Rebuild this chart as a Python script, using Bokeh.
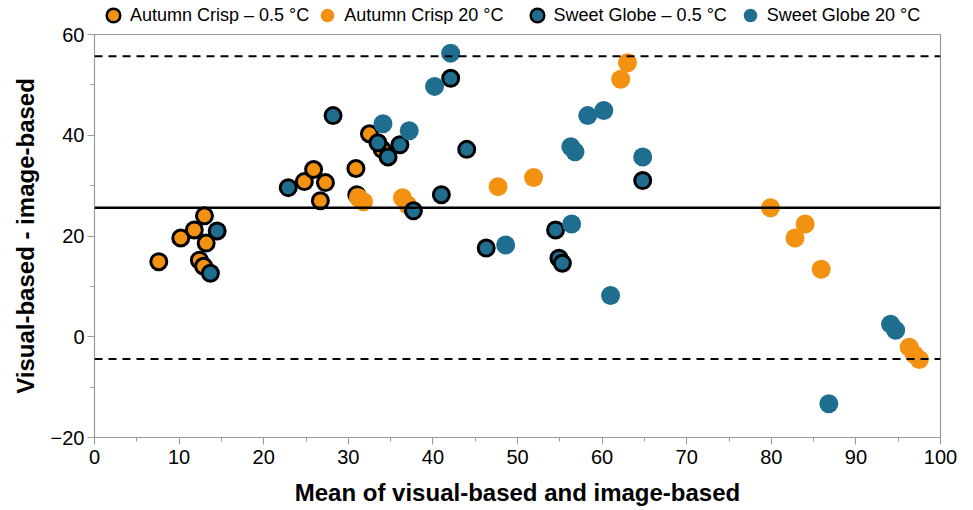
from bokeh.plotting import figure
from bokeh.layouts import column
from bokeh.models import Span, Legend, LegendItem, FixedTicker
from bokeh.embed import file_html
from bokeh.resources import INLINE

# ---- data ----
ac05_x = [7.6, 10.2, 11.8, 13.0, 13.2, 12.4, 12.9, 24.8, 25.9, 27.3, 26.7, 30.9, 31.0, 32.5, 34.0]
ac05_y = [14.9, 19.6, 21.2, 24.0, 18.6, 15.2, 14.0, 30.8, 33.2, 30.6, 27.0, 33.4, 28.2, 40.3, 37.2]

ac20_x = [31.2, 31.8, 36.4, 37.0, 47.7, 51.9, 62.2, 63.0, 79.9, 84.0, 82.8, 85.9, 96.3, 96.9, 97.5]
ac20_y = [27.6, 26.8, 27.6, 26.2, 29.8, 31.6, 51.1, 54.4, 25.6, 22.4, 19.6, 13.4, -2.1, -3.5, -4.5]

sg05_x = [14.5, 13.7, 22.9, 28.2, 33.5, 34.7, 36.1, 37.7, 41.0, 42.1, 44.0, 46.3, 54.5, 54.9, 55.3, 64.8]
sg05_y = [21.0, 12.6, 29.6, 43.9, 38.5, 35.7, 38.1, 25.0, 28.2, 51.3, 37.2, 17.6, 21.2, 15.6, 14.6, 31.0]

sg20_x = [34.1, 37.2, 40.2, 42.1, 48.6, 58.3, 60.2, 56.3, 56.8, 64.8, 56.4, 61.0, 94.1, 94.7, 86.8]
sg20_y = [42.3, 40.9, 49.7, 56.3, 18.2, 43.9, 44.9, 37.7, 36.7, 35.7, 22.4, 8.2, 2.5, 1.3, -13.3]

mean_diff = 25.6
upper_loa = 55.7
lower_loa = -4.4

labels = ["Autumn Crisp – 0.5 °C", "Autumn Crisp 20 °C",
          "Sweet Globe – 0.5 °C", "Sweet Globe 20 °C"]
x_ticks = [0, 10, 20, 30, 40, 50, 60, 70, 80, 90, 100]
y_ticks = [-20, 0, 20, 40, 60]

ORANGE = "#f39110"
BLUE = "#1f6e8f"
FONT = "Liberation Sans"

# ---------------- main plot ----------------
p = figure(width=973, height=486, output_backend="svg", toolbar_location=None,
           x_range=(0, 100), y_range=(-20, 60),
           min_border_left=94, min_border_right=33, min_border_top=10, min_border_bottom=73,
           x_axis_label="Mean of visual-based and image-based",
           y_axis_label="Visual-based - image-based")
p.grid.visible = False
p.outline_line_color = "#999999"
p.outline_line_width = 1.2
p.background_fill_color = "white"
p.border_fill_color = "white"

for ax in (p.xaxis[0], p.yaxis[0]):
    ax.axis_line_color = "#999999"
    ax.major_tick_line_color = "#999999"
    ax.minor_tick_line_color = "#999999"
    ax.major_tick_out = 7
    ax.major_tick_in = 0
    ax.minor_tick_out = 4
    ax.minor_tick_in = 0
    ax.major_label_text_font = FONT
    ax.major_label_text_font_size = "20px"
    ax.major_label_text_color = "black"
    ax.axis_label_text_font = FONT
    ax.axis_label_text_font_size = "24px"
    ax.axis_label_text_font_style = "bold"
    ax.axis_label_text_color = "black"

p.xaxis[0].ticker = FixedTicker(ticks=x_ticks, minor_ticks=[v + 5 for v in x_ticks[:-1]])
p.yaxis[0].ticker = FixedTicker(ticks=y_ticks, minor_ticks=[v + 10 for v in y_ticks[:-1]])
p.xaxis[0].major_label_standoff = 5
p.yaxis[0].major_label_standoff = 3
p.xaxis[0].axis_label_standoff = 12
p.yaxis[0].axis_label_standoff = 9
p.yaxis[0].major_label_overrides = {-20: "−20"}

p.add_layout(Span(location=mean_diff, dimension="width", line_color="black", line_width=2.5))
p.add_layout(Span(location=upper_loa, dimension="width", line_color="black", line_width=2,
                  line_dash="8 6"))
p.add_layout(Span(location=lower_loa, dimension="width", line_color="black", line_width=2,
                  line_dash="8 6"))

p.scatter(ac05_x, ac05_y, size=16, fill_color=ORANGE, line_color="black", line_width=3)
p.scatter(ac20_x, ac20_y, size=19, fill_color=ORANGE, line_color=None)
p.scatter(sg05_x, sg05_y, size=16, fill_color=BLUE, line_color="black", line_width=3)
p.scatter(sg20_x, sg20_y, size=19, fill_color=BLUE, line_color=None)

# ---------------- legend strip ----------------
lg = figure(width=973, height=24, output_backend="svg", toolbar_location=None,
            x_range=(0, 1), y_range=(0, 1), x_axis_type=None, y_axis_type=None,
            min_border=0, min_border_left=0, min_border_right=0,
            min_border_top=0, min_border_bottom=0)
lg.grid.visible = False
lg.outline_line_color = None
lg.background_fill_color = "white"
lg.border_fill_color = "white"

l1 = lg.scatter([-100], [-100], fill_color=ORANGE, line_color="black", line_width=2.5)
l2 = lg.scatter([-100], [-100], fill_color=ORANGE, line_color=None)
l3 = lg.scatter([-100], [-100], fill_color=BLUE, line_color="black", line_width=2.5)
l4 = lg.scatter([-100], [-100], fill_color=BLUE, line_color=None)

NB = "\u00a0"
legend = Legend(items=[LegendItem(label=labels[0], renderers=[l1]),
                       LegendItem(label=labels[1] + NB * 3, renderers=[l2]),
                       LegendItem(label=labels[2] + NB * 1, renderers=[l3]),
                       LegendItem(label=labels[3], renderers=[l4])],
                location=(2, -8), orientation="horizontal",
                label_text_font=FONT, label_text_font_size="18px",
                label_text_color="black", border_line_color=None,
                background_fill_alpha=0, padding=0, margin=0, spacing=1,
                glyph_width=34, glyph_height=34, label_standoff=0,
                label_height=18)
lg.add_layout(legend, "center")

layout = column(lg, p, spacing=0)
open("out.html", "w").write(file_html(layout, INLINE))
